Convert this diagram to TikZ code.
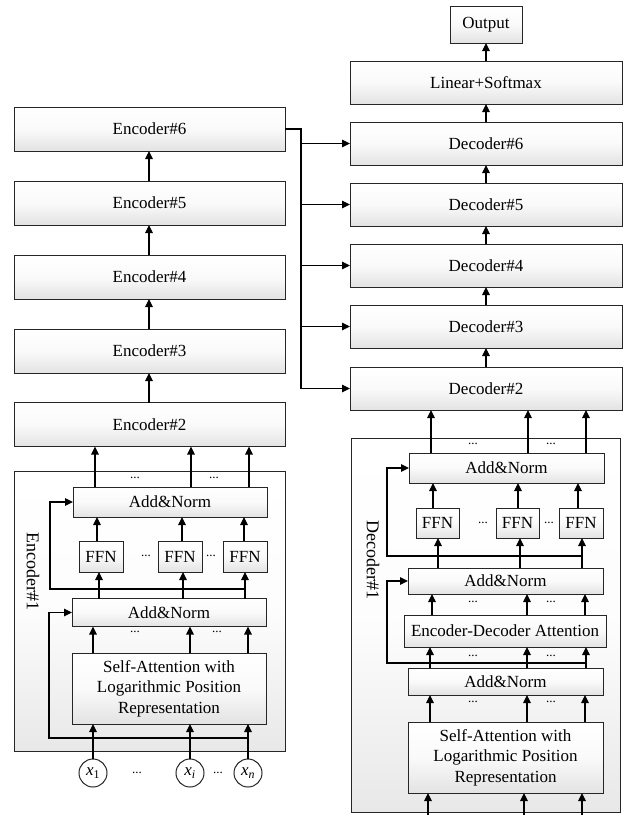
\documentclass[tikz,border=0pt]{standalone}
\usepackage{fontspec}
\setmainfont{Liberation Serif}
\usetikzlibrary{arrows.meta}
\begin{document}
\begin{tikzpicture}[x=1pt,y=-1pt,
 box/.style={draw=black!85, line width=1pt, top color=white, bottom color=black!11, middle color=black!2, inner sep=0pt, outer sep=0pt, font=\fontsize{17}{20.5}\selectfont, align=center},
 outerbox/.style={draw=black!85, line width=1pt, top color=white, bottom color=black!9, middle color=black!1, inner sep=0pt, outer sep=0pt},
 arr/.style={line width=1.1pt, -{Triangle[length=8pt,width=7.5pt]}},
 ln/.style={line width=1.1pt},
 dots/.style={font=\fontsize{13}{13}\selectfont, inner sep=0pt},
 inp/.style={circle, draw=black!85, line width=1pt, fill=white, minimum size=28pt, inner sep=0pt, font=\fontsize{17}{17}\selectfont},
 lab/.style={rotate=-90, font=\fontsize{18}{18}\selectfont, inner sep=0pt}
]
\newcommand\upar[3]{\draw[arr] (#2.north -| #1,0) -- (#3.south -| #1,0);}
\useasboundingbox (0,0) rectangle (631,815);
\fill[white] (0,0) rectangle (631,815);

% ---------- Encoder side ----------
\node[outerbox, minimum width=271pt, minimum height=280pt] (enc1) at (149.5,611) {};
\node[lab] (enc1lab) at (33,571) {Encoder\#1};

\foreach \n/\y in {6/129,5/203,4/277,3/351,2/424.5}
  \node[box, minimum width=271pt, minimum height=44pt] (e\n) at (149.5,\y) {Encoder\#\n};

\node[box, minimum width=194pt, minimum height=30pt] (an1) at (170,502) {Add\&Norm};
\node[box, minimum width=44pt, minimum height=31pt] (f1) at (101,556.5) {FFN};
\node[box, minimum width=44pt, minimum height=31pt] (f2) at (180,556.5) {FFN};
\node[box, minimum width=44pt, minimum height=31pt] (f3) at (245,556.5) {FFN};
\node[box, minimum width=194pt, minimum height=28pt] (an0) at (169,612.5) {Add\&Norm};
\node[box, minimum width=194pt, minimum height=71pt] (sa) at (169,688.5) {Self-Attention with\\Logarithmic Position\\Representation};

\node[inp] (x1) at (93,773) {\textit{x}\textsubscript{1}};
\node[inp] (xi) at (190,773) {\textit{x}\textsubscript{\textit{i}}};
\node[inp] (xn) at (248,773) {\textit{x}\textsubscript{\textit{n}}};

\node[dots] (ed1) at (135,478) {...};
\node[dots] (ed2) at (214,478) {...};
\node[dots] (ed3) at (146,556) {...};
\node[dots] (ed4) at (211,556) {...};
\node[dots] (ed5) at (135,632) {...};
\node[dots] (ed6) at (217,632) {...};
\node[dots] (ed7) at (137,773) {...};
\node[dots] (ed8) at (218,773) {...};

\upar{149}{e2}{e3}
\upar{149}{e3}{e4}
\upar{149}{e4}{e5}
\upar{149}{e5}{e6}

\upar{95}{an1}{e2}
\upar{191}{an1}{e2}
\upar{249}{an1}{e2}
\upar{97}{f1}{an1}
\upar{182}{f2}{an1}
\upar{244}{f3}{an1}
\upar{99}{an0}{f1}
\upar{183}{an0}{f2}
\upar{245}{an0}{f3}
\upar{93}{sa}{an0}
\upar{190}{sa}{an0}
\upar{248}{sa}{an0}
\draw[arr] (x1) -- (x1 |- sa.south);
\draw[arr] (xi) -- (xi |- sa.south);
\draw[arr] (xn) -- (xn |- sa.south);

\coordinate (r1) at (245,589);
\draw[arr] (r1) -- (50,589) |- (an1.west);
\coordinate (r0) at (248,738);
\draw[arr] (r0) -- (49,738) |- (an0.west);

% ---------- Decoder side ----------
\node[outerbox, minimum width=269pt, minimum height=374pt] (dec1) at (485.5,625) {};
\node[lab] (dec1lab) at (373,560) {Decoder\#1};

\node[box, minimum width=72pt, minimum height=37pt] (out) at (486,24.5) {Output};
\node[box, minimum width=272pt, minimum height=43pt] (lin) at (486,82.5) {Linear+Softmax};
\foreach \n/\y in {6/143.5,5/204.5,4/265.5,3/326.5,2/388.5}
  \node[box, minimum width=272pt, minimum height=43pt] (d\n) at (486,\y) {Decoder\#\n};

\node[box, minimum width=195pt, minimum height=30pt] (dan1) at (506.5,468) {Add\&Norm};
\node[box, minimum width=43pt, minimum height=30pt] (df1) at (437.5,523) {FFN};
\node[box, minimum width=43pt, minimum height=30pt] (df2) at (517.5,523) {FFN};
\node[box, minimum width=44pt, minimum height=30pt] (df3) at (581,523) {FFN};
\node[box, minimum width=195pt, minimum height=26pt] (dan2) at (505.5,581) {Add\&Norm};
\node[box, minimum width=202pt, minimum height=32pt] (eda) at (505,631) {Encoder-Decoder Attention};
\node[box, minimum width=195pt, minimum height=27pt] (dan3) at (505.5,681.5) {Add\&Norm};
\node[box, minimum width=195pt, minimum height=71pt] (dsa) at (505.5,757.5) {Self-Attention with\\Logarithmic Position\\Representation};

\node[dots] (dd1) at (473,444) {...};
\node[dots] (dd2) at (551,444) {...};
\node[dots] (dd3) at (483,523) {...};
\node[dots] (dd4) at (549,523) {...};
\node[dots] (dd5) at (473,602) {...};
\node[dots] (dd6) at (551,602) {...};
\node[dots] (dd7) at (473,656) {...};
\node[dots] (dd8) at (551,656) {...};
\node[dots] (dd9) at (473,702) {...};
\node[dots] (dd10) at (551,702) {...};

\upar{486}{lin}{out}
\upar{486}{d6}{lin}
\upar{486}{d5}{d6}
\upar{486}{d4}{d5}
\upar{486}{d3}{d4}
\upar{486}{d2}{d3}

\upar{431}{dan1}{d2}
\upar{528}{dan1}{d2}
\upar{586}{dan1}{d2}
\upar{433}{df1}{dan1}
\upar{518}{df2}{dan1}
\upar{578}{df3}{dan1}
\upar{438}{dan2}{df1}
\upar{520}{dan2}{df2}
\upar{582}{dan2}{df3}
\upar{432}{eda}{dan2}
\upar{527}{eda}{dan2}
\upar{585}{eda}{dan2}
\upar{430}{dan3}{eda}
\upar{527}{dan3}{eda}
\upar{586}{dan3}{eda}
\upar{430}{dsa}{dan3}
\upar{527}{dsa}{dan3}
\upar{585}{dsa}{dan3}

\coordinate (in1) at (428,815);
\coordinate (in2) at (524,815);
\coordinate (in3) at (582,815);
\draw[arr] (in1) -- (in1 |- dsa.south);
\draw[arr] (in2) -- (in2 |- dsa.south);
\draw[arr] (in3) -- (in3 |- dsa.south);

\coordinate (dr1) at (582,556);
\draw[arr] (dr1) -- (387,556) |- (dan1.west);
\coordinate (dr2) at (586,663);
\draw[arr] (dr2) -- (387,663) |- (dan2.west);

% ---------- Encoder output bus ----------
\coordinate (bus) at (301,129);
\draw[ln] (e6.east) -- (bus) -- (301,388.5);
\foreach \n in {6,5,4,3,2}
  \draw[arr] (d\n.west -| bus) -- (d\n.west);
\end{tikzpicture}
\end{document}
